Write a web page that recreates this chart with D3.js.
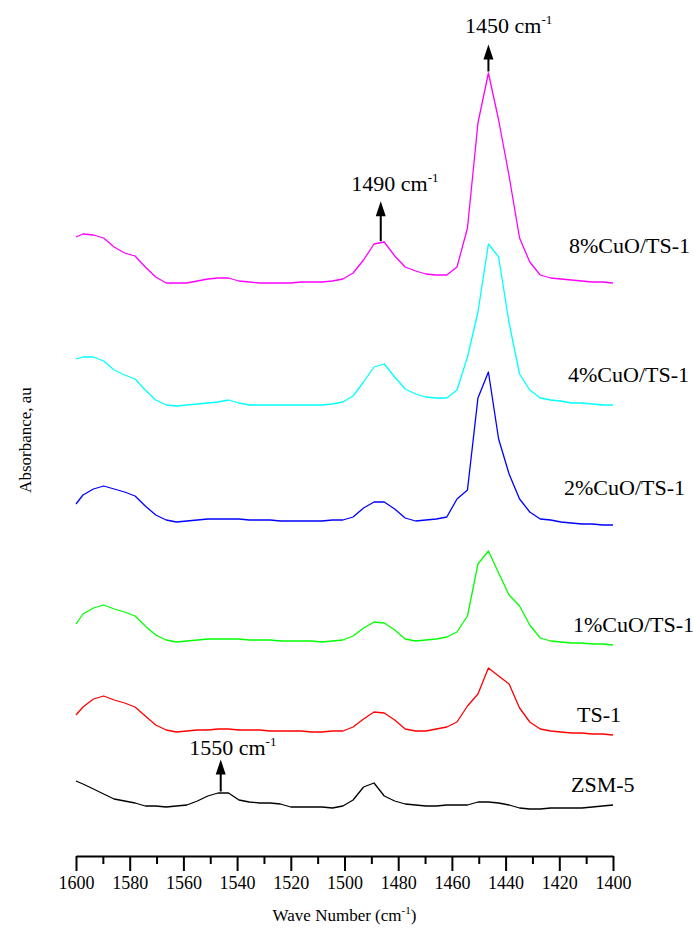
<!DOCTYPE html>
<html><head><meta charset="utf-8">
<script src="https://cdn.jsdelivr.net/npm/d3@7/dist/d3.min.js"></script>
<style>
body{margin:0;background:#fff}
svg{display:block}
text{font-family:"Liberation Serif","Times New Roman",serif;fill:#000}
</style>
</head><body>
<svg id="chart" width="694" height="933"></svg>
<script>
const wavenumbers = [1600,1597.4,1593.5,1589.7,1585.8,1581.9,1578.0,1574.2,1570.3,1566.4,1562.6,1558.7,1554.8,1550.9,1547.1,1543.2,1539.3,1535.5,1531.6,1527.7,1523.9,1520.0,1516.1,1512.2,1508.4,1504.5,1500.6,1496.8,1492.9,1489.0,1485.2,1481.3,1477.4,1473.5,1469.7,1465.8,1461.9,1458.1,1454.2,1450.3,1446.4,1442.6,1438.7,1434.8,1431.0,1427.1,1423.2,1419.4,1415.5,1411.6,1407.7,1403.9,1400.0];

const zsm5 = [0.075,0.072,0.067,0.062,0.057,0.055,0.053,0.050,0.050,0.049,0.050,0.051,0.055,0.060,0.063,0.063,0.056,0.054,0.053,0.053,0.052,0.049,0.049,0.049,0.049,0.048,0.050,0.056,0.069,0.073,0.060,0.055,0.052,0.051,0.050,0.050,0.051,0.051,0.051,0.054,0.054,0.053,0.051,0.048,0.047,0.047,0.048,0.048,0.048,0.048,0.049,0.050,0.051];
const ts1 = [0.141,0.149,0.157,0.160,0.156,0.153,0.149,0.140,0.131,0.126,0.124,0.125,0.126,0.126,0.127,0.127,0.126,0.126,0.126,0.125,0.125,0.125,0.125,0.124,0.124,0.125,0.125,0.129,0.137,0.144,0.143,0.136,0.127,0.125,0.125,0.127,0.129,0.134,0.150,0.162,0.188,0.180,0.172,0.148,0.134,0.127,0.125,0.124,0.123,0.123,0.122,0.122,0.121];
const cu1 = [0.232,0.242,0.248,0.251,0.247,0.244,0.240,0.230,0.221,0.216,0.214,0.215,0.216,0.217,0.217,0.217,0.217,0.216,0.216,0.216,0.215,0.215,0.215,0.215,0.214,0.215,0.216,0.220,0.228,0.234,0.233,0.226,0.217,0.215,0.216,0.217,0.219,0.224,0.240,0.292,0.305,0.283,0.261,0.250,0.231,0.218,0.215,0.214,0.213,0.213,0.212,0.212,0.211];
const cu2 = [0.352,0.361,0.367,0.370,0.367,0.364,0.360,0.350,0.341,0.336,0.334,0.335,0.336,0.337,0.337,0.337,0.337,0.336,0.336,0.336,0.335,0.335,0.335,0.335,0.335,0.336,0.336,0.339,0.348,0.354,0.354,0.347,0.338,0.335,0.336,0.337,0.339,0.357,0.366,0.458,0.484,0.417,0.382,0.357,0.344,0.337,0.336,0.334,0.333,0.332,0.332,0.331,0.331];
const cu4 = [0.497,0.499,0.499,0.495,0.486,0.481,0.477,0.466,0.456,0.451,0.450,0.451,0.452,0.453,0.454,0.456,0.453,0.451,0.451,0.451,0.451,0.451,0.451,0.451,0.451,0.452,0.454,0.460,0.474,0.489,0.492,0.479,0.467,0.462,0.459,0.458,0.458,0.466,0.499,0.544,0.612,0.599,0.533,0.482,0.466,0.458,0.456,0.455,0.453,0.453,0.452,0.451,0.451];
const cu8 = [0.619,0.622,0.621,0.618,0.609,0.603,0.600,0.589,0.579,0.573,0.573,0.573,0.575,0.577,0.578,0.578,0.575,0.574,0.573,0.573,0.573,0.573,0.574,0.574,0.574,0.575,0.577,0.583,0.596,0.612,0.614,0.600,0.589,0.585,0.582,0.581,0.581,0.589,0.628,0.733,0.783,0.736,0.680,0.618,0.594,0.581,0.578,0.577,0.576,0.575,0.574,0.574,0.573];

const seriesNames = ["ZSM-5","TS-1","1%CuO/TS-1","2%CuO/TS-1","4%CuO/TS-1","8%CuO/TS-1"];
const seriesValues = [zsm5, ts1, cu1, cu2, cu4, cu8];
const seriesColors = ["#000000","#ff0000","#00ff00","#0000ff","#00ffff","#ff00ff"];

const xTickValues = [1600,1580,1560,1540,1520,1500,1480,1460,1440,1420,1400];
const xMinorTicks = [1590,1570,1550,1530,1510,1490,1470,1450,1430,1410];

const peakTexts = ["1550","1490","1450"];
const peakWavenumbers = [1546.1,1486.5,1446.4];
const peakSeries = [0, 5, 5];

// layout (not data)
const labelX = [571,577,573,564,568,569];
const labelY = [792,722,632,495,382,253];
const arrowLen = [32,40,27];
const peakTextDx = [-31.5,-29.5,-23.3];
const peakTextGap = [5,10,12];

const svg = d3.select("#chart");
const x = d3.scaleLinear().domain([1600,1400]).range([76,613]);
const y = d3.scaleLinear().domain([0,0.8]).range([856,56]);

// Axis
const axisG = svg.append("g").attr("transform","translate(0,856)");
axisG.call(d3.axisBottom(x).tickValues(xTickValues).tickSize(15).tickSizeOuter(0).tickPadding(5).tickFormat(d3.format("d")));
axisG.select(".domain").attr("stroke","#000").attr("stroke-width",2);
axisG.selectAll(".tick line").attr("stroke","#000").attr("stroke-width",2);
axisG.selectAll(".tick text").attr("font-size",18).attr("font-family","Liberation Serif, Times New Roman, serif").attr("fill","#000");
const minorG = svg.append("g").attr("transform","translate(0,856)");
minorG.call(d3.axisBottom(x).tickValues(xMinorTicks).tickSize(8).tickSizeOuter(0).tickFormat(""));
minorG.select(".domain").remove();
minorG.selectAll(".tick line").attr("stroke","#000").attr("stroke-width",2);

// Axis titles
const xt = svg.append("text").attr("x",(76+613)/2).attr("y",921).attr("text-anchor","middle").attr("font-size",17);
xt.append("tspan").text("Wave Number (cm");
xt.append("tspan").text("-1").attr("font-size",11).attr("dy",-7);
xt.append("tspan").text(")").attr("dy",7);

svg.append("text").attr("transform","translate(31,440) rotate(-90)").attr("text-anchor","middle").attr("font-size",17).text("Absorbance, au");

// Lines
const line = d3.line().x((d,i)=>x(wavenumbers[i])).y(d=>y(d));
seriesValues.forEach((vals,s)=>{
  svg.append("path").datum(vals).attr("d",line).attr("fill","none")
    .attr("stroke",seriesColors[s]).attr("stroke-width",1.3).attr("stroke-linejoin","round");
});

// Series labels
seriesNames.forEach((n,s)=>{
  svg.append("text").attr("x",labelX[s]).attr("y",labelY[s]).attr("font-size",22).text(n);
});

// Arrow marker
svg.append("defs").append("marker").attr("id","ah").attr("viewBox","0 0 10 15")
  .attr("refX",5).attr("refY",0).attr("markerWidth",10).attr("markerHeight",15)
  .attr("markerUnits","userSpaceOnUse").attr("orient","0")
  .append("path").attr("d","M0,15 L5,0 L10,15 Z").attr("fill","#000");

peakTexts.forEach((t,i)=>{
  const wn = peakWavenumbers[i];
  const vals = seriesValues[peakSeries[i]];
  const yv = d3.scaleLinear().domain(wavenumbers.slice()).range(vals)(wn);
  const px = x(wn), py = y(yv) - 1.5;
  const tip = py - arrowLen[i];
  svg.append("line").attr("x1",px).attr("x2",px).attr("y1",py).attr("y2",tip+12)
    .attr("stroke","#000").attr("stroke-width",2);
  svg.append("path").attr("d",`M${px-5},${tip+15} L${px},${tip} L${px+5},${tip+15} Z`).attr("fill","#000");
  const tt = svg.append("text").attr("x",px+peakTextDx[i]).attr("y",tip-peakTextGap[i]).attr("font-size",22);
  tt.append("tspan").text(t+" cm");
  tt.append("tspan").text("-1").attr("font-size",13).attr("dy",-9);
});
</script>
</body></html>
